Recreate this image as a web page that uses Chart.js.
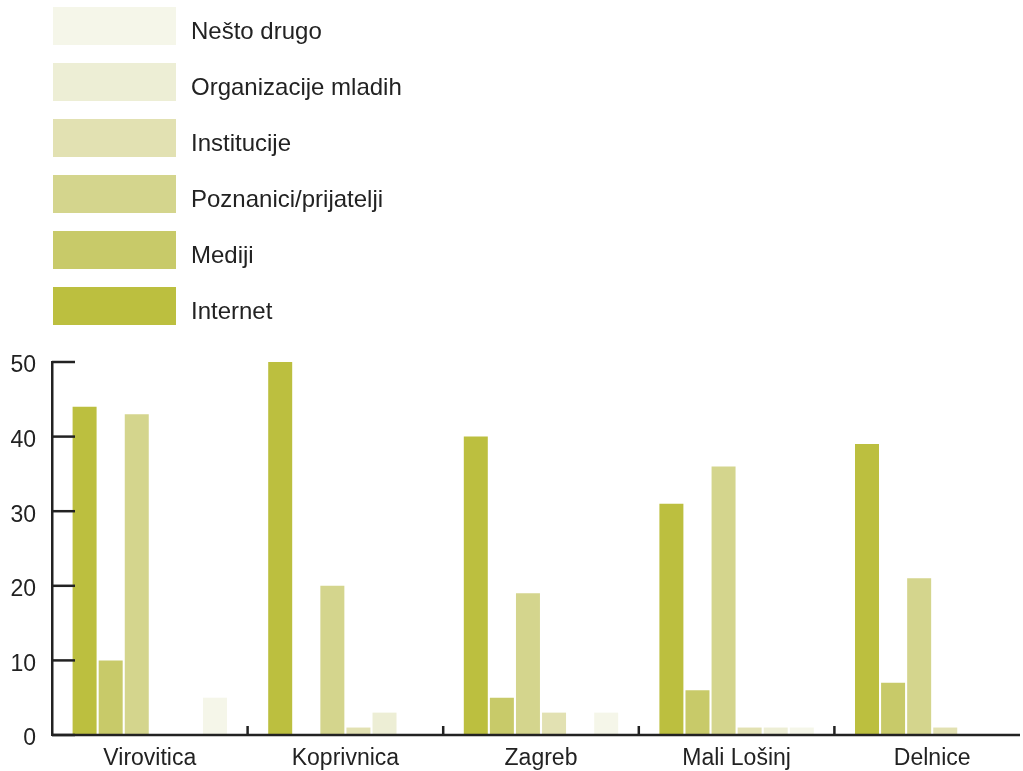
<!DOCTYPE html>
<html>
<head>
<meta charset="utf-8">
<script src="https://cdn.jsdelivr.net/npm/chart.js@4.4.0/dist/chart.umd.min.js"></script>
<style>
  body { margin: 0; background: #fff; font-family: "Liberation Sans", Arial, sans-serif; overflow: hidden; }
  #wrap { position: relative; width: 1023px; height: 771px; overflow: hidden; }
  #chart { display: block; }
  #legend { position: absolute; left: 53px; top: 7px; }
  .item { display: flex; align-items: center; height: 38px; margin-bottom: 18px; }
  .box { width: 123px; height: 38px; }
  .lbl { margin-left: 15px; font-size: 24px; color: #222; padding-top: 9px; }
</style>
</head>
<body>
<div id="wrap">
  <canvas id="chart" width="1033" height="771"></canvas>
  <div id="legend"></div>
</div>
<script>
// kategorije i serije
const gradovi = ['Virovitica', 'Koprivnica', 'Zagreb', 'Mali Lošinj', 'Delnice'];
const internet = [44, 50, 40, 31, 39];
const mediji = [10, 0, 5, 6, 7];
const poznanici = [43, 20, 19, 36, 21];
const institucije = [0, 1, 3, 1, 1];
const organizacije = [0, 3, 0, 1, 0];
const nestoDrugo = [5, 0, 3, 1, 0];
const yTicks = [0, 10, 20, 30, 40, 50];

const serije = [
  { label: 'Internet', data: internet, color: '#bcbf3f' },
  { label: 'Mediji', data: mediji, color: '#c8ca69' },
  { label: 'Poznanici/prijatelji', data: poznanici, color: '#d4d58d' },
  { label: 'Institucije', data: institucije, color: '#e2e1b2' },
  { label: 'Organizacije mladih', data: organizacije, color: '#edeed5' },
  { label: 'Nešto drugo', data: nestoDrugo, color: '#f5f6e9' }
];

// Legenda (obrnuti redoslijed)
document.getElementById('legend').innerHTML = serije.slice().reverse().map(s =>
  `<div class="item"><div class="box" style="background:${s.color}"></div><div class="lbl">${s.label}</div></div>`
).join('');

// Os x i crtice prema unutra
const tickPlugin = {
  id: 'innerTicks',
  afterDraw(chart) {
    const ctx = chart.ctx;
    const x = chart.scales.x, y = chart.scales.y;
    ctx.save();
    ctx.strokeStyle = '#222';
    ctx.lineWidth = 2.5;
    ctx.beginPath();
    ctx.moveTo(x.left, y.bottom);
    ctx.lineTo(1020, y.bottom);
    ctx.stroke();
    yTicks.forEach(v => {
      const py = y.getPixelForValue(v);
      ctx.beginPath();
      ctx.moveTo(x.left, py);
      ctx.lineTo(x.left + 23, py);
      ctx.stroke();
    });
    for (let i = 1; i < gradovi.length; i++) {
      const px = (x.getPixelForValue(i - 1) + x.getPixelForValue(i)) / 2;
      ctx.beginPath();
      ctx.moveTo(px, y.bottom);
      ctx.lineTo(px, y.bottom - 9);
      ctx.stroke();
    }
    ctx.restore();
  }
};

new Chart(document.getElementById('chart'), {
  type: 'bar',
  data: {
    labels: gradovi,
    datasets: serije.map(s => ({
      label: s.label,
      data: s.data,
      backgroundColor: s.color,
      borderWidth: 0,
      categoryPercentage: 0.8,
      barPercentage: 0.92
    }))
  },
  options: {
    responsive: false,
    animation: false,
    layout: { padding: { top: 362, right: 3, left: 0, bottom: 0 } },
    plugins: { legend: { display: false }, tooltip: { enabled: false } },
    scales: {
      x: {
        grid: { display: false },
        border: { display: false },
        ticks: { color: '#222', font: { family: 'Liberation Sans', size: 23 }, padding: 2, maxRotation: 0 },
        afterFit(scale) { scale.height = 36; }
      },
      y: {
        min: 0, max: 50,
        grid: { display: false },
        border: { display: true, color: '#222', width: 2.5 },
        ticks: { stepSize: 10, color: '#222', font: { family: 'Liberation Sans', size: 23 }, padding: 8, labelOffset: 4 },
        afterFit(scale) { scale.width = 52; }
      }
    }
  },
  plugins: [tickPlugin]
});
</script>
</body>
</html>
